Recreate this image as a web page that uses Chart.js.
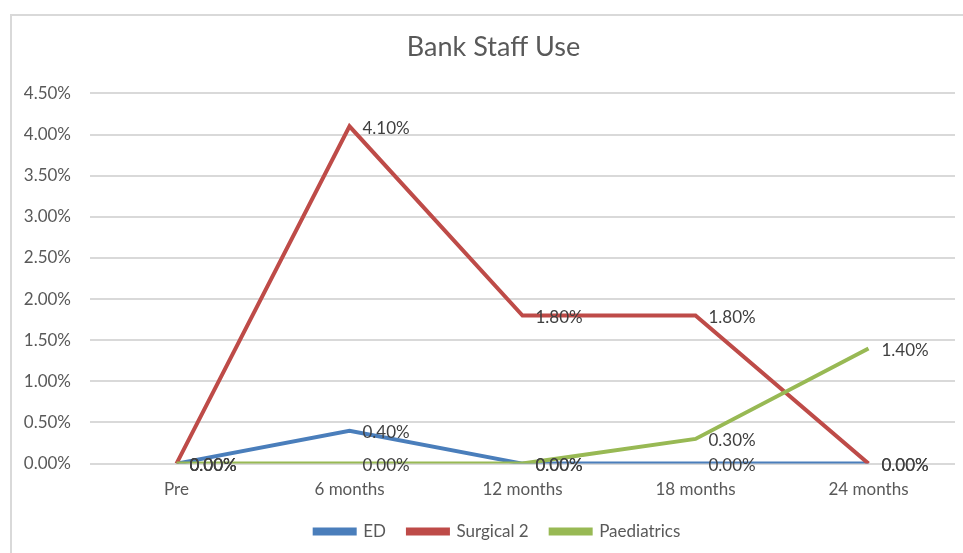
<!DOCTYPE html>
<html>
<head>
<meta charset="utf-8">
<script src="https://cdn.jsdelivr.net/npm/chart.js@4.4.1/dist/chart.umd.min.js"></script>
<style>
html,body{margin:0;padding:0;background:#fff;width:963px;height:553px;overflow:hidden;}
#frame{position:absolute;left:10px;top:14px;width:1000px;height:600px;border:2px solid #d9d9d9;box-sizing:border-box;}
#wrap{position:absolute;left:0;top:0;width:963px;height:553px;}
</style>
</head>
<body>
<div id="frame"></div>
<div id="wrap"><canvas id="c" width="963" height="553"></canvas></div>
<script>
const categories = ['Pre', '6 months', '12 months', '18 months', '24 months'];
const edValues = [0, 0.4, 0, 0, 0];
const surgicalValues = [0, 4.1, 1.8, 1.8, 0];
const paediatricsValues = [0, 0, 0, 0.3, 1.4];
const seriesNames = ['ED', 'Surgical 2', 'Paediatrics'];
const yMin = 0, yMax = 4.5, yStep = 0.5;

const FONT = 'Lato, "Open Sans", sans-serif';
const fmt = v => Number(v).toFixed(2) + '%';

const dataLabels = {
  id: 'dataLabels',
  afterDatasetsDraw(chart) {
    const ctx = chart.ctx;
    ctx.save();
    ctx.font = '17px ' + FONT;
    ctx.fillStyle = '#404040';
    ctx.textAlign = 'left';
    ctx.textBaseline = 'middle';
    chart.data.datasets.forEach((ds, i) => {
      const meta = chart.getDatasetMeta(i);
      meta.data.forEach((pt, j) => {
        ctx.fillText(fmt(ds.data[j]), pt.x + 13, pt.y + 2);
      });
    });
    ctx.restore();
  }
};

const boxShift = {
  id: 'boxShift',
  afterLayout(chart) {
    const l = chart.legend;
    if (l) { l.left += 20; l.right += 20; }
    const t = chart.titleBlock;
    if (t) { t.left += 16; t.right += 16; }
  }
};

const colors = ['#4A7EBB', '#BE4B48', '#98B954'];
const values = [edValues, surgicalValues, paediatricsValues];

new Chart(document.getElementById('c'), {
  type: 'line',
  data: {
    labels: categories,
    datasets: seriesNames.map((n, i) => ({
      label: n,
      data: values[i],
      borderColor: colors[i],
      backgroundColor: colors[i],
      borderWidth: 4,
      pointRadius: 0,
      tension: 0,
      order: 3 - i
    }))
  },
  options: {
    responsive: false,
    animation: false,
    devicePixelRatio: 1,
    layout: { padding: { left: 0, right: 8, top: 0, bottom: 3 } },
    plugins: {
      tooltip: { enabled: false },
      title: {
        display: true,
        text: 'Bank Staff Use',
        color: '#595959',
        font: { family: FONT, size: 27, weight: 'normal' },
        padding: { top: 31, bottom: 30 }
      },
      legend: {
        position: 'bottom',
        labels: {
          color: '#595959',
          font: { family: FONT, size: 17 },
          boxWidth: 40,
          boxHeight: 4,
          padding: 22,
          sort: (a, b) => a.datasetIndex - b.datasetIndex
        }
      }
    },
    scales: {
      x: {
        offset: true,
        afterFit: s => { s.height -= 15; },
        grid: { display: false, drawTicks: false },
        border: { display: false },
        ticks: { color: '#595959', font: { family: FONT, size: 17 }, padding: 16, maxRotation: 0 }
      },
      y: {
        min: yMin, max: yMax,
        afterFit: s => { s.width = 90; },
        grid: { color: '#d9d9d9', lineWidth: 2, drawTicks: false },
        border: { display: false },
        ticks: { stepSize: yStep, color: '#595959', font: { family: FONT, size: 17 }, padding: 19, callback: v => fmt(v) }
      }
    }
  },
  plugins: [dataLabels, boxShift]
});
</script>
</body>
</html>
